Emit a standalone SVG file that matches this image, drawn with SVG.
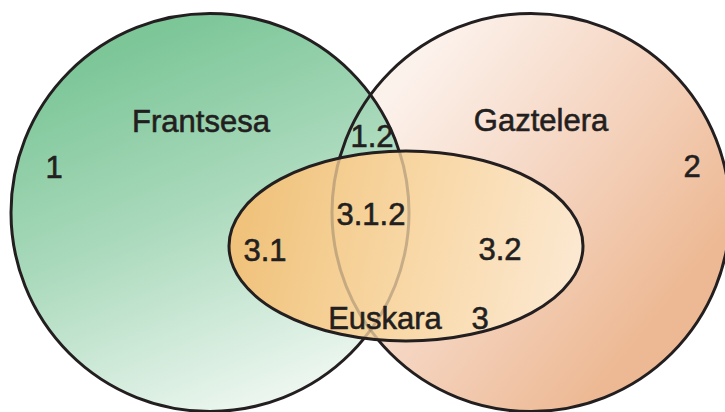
<svg xmlns="http://www.w3.org/2000/svg" width="725" height="412" viewBox="0 0 725 412">
  <defs>
    <linearGradient id="gGreen" x1="110" y1="50" x2="260" y2="410" gradientUnits="userSpaceOnUse">
      <stop offset="0" stop-color="#7cc698"/>
      <stop offset="0.45" stop-color="#a9d9bb"/>
      <stop offset="1" stop-color="#eef7f1"/>
    </linearGradient>
    <linearGradient id="gPeach" x1="410" y1="70" x2="680" y2="290" gradientUnits="userSpaceOnUse">
      <stop offset="0" stop-color="#fcf2ec"/>
      <stop offset="0.5" stop-color="#f5d5c1"/>
      <stop offset="1" stop-color="#edb994"/>
    </linearGradient>
    <linearGradient id="gOrange" x1="230" y1="200" x2="583" y2="280" gradientUnits="userSpaceOnUse">
      <stop offset="0" stop-color="#efc077"/>
      <stop offset="0.5" stop-color="#f8d7a4"/>
      <stop offset="1" stop-color="#fce9d3"/>
    </linearGradient>
    <clipPath id="ellClip">
      <ellipse cx="406" cy="246" rx="177" ry="95"/>
    </clipPath>
    <style>
      .edge { fill: none; stroke: #231f20; stroke-width: 3; }
      .ghost { fill: none; stroke: #8a7a66; stroke-width: 3; stroke-opacity: 0.45; }
      .lbl { font-family: "Liberation Sans", Arial, sans-serif; font-size: 31px; fill: #231f20; stroke: #231f20; stroke-width: 0.6; text-anchor: middle; }
    </style>
  </defs>

  <g id="gaztelera">
    <circle cx="531" cy="212.5" r="199" fill="url(#gPeach)"/>
  </g>
  <g id="frantsesa">
    <circle cx="210" cy="212.5" r="199" fill="url(#gGreen)"/>
  </g>
  <g id="outlines">
    <circle class="edge" cx="531" cy="212.5" r="199"/>
    <circle class="edge" cx="210" cy="212.5" r="199"/>
  </g>
  <g id="euskara">
    <ellipse cx="406" cy="246" rx="177" ry="95" fill="url(#gOrange)"/>
    <g clip-path="url(#ellClip)">
      <circle class="ghost" cx="531" cy="212.5" r="199"/>
      <circle class="ghost" cx="210" cy="212.5" r="199"/>
    </g>
    <ellipse class="edge" cx="406" cy="246" rx="177" ry="95"/>
  </g>

  <g id="labels">
    <text class="lbl" x="201" y="132">Frantsesa</text>
    <text class="lbl" x="541" y="131">Gaztelera</text>
    <text class="lbl" x="385" y="329">Euskara</text>
    <text class="lbl" x="54" y="178">1</text>
    <text class="lbl" x="692" y="177">2</text>
    <text class="lbl" x="372" y="147">1.2</text>
    <text class="lbl" x="371" y="225">3.1.2</text>
    <text class="lbl" x="265" y="261">3.1</text>
    <text class="lbl" x="500" y="260">3.2</text>
    <text class="lbl" x="480" y="329">3</text>
  </g>
</svg>
